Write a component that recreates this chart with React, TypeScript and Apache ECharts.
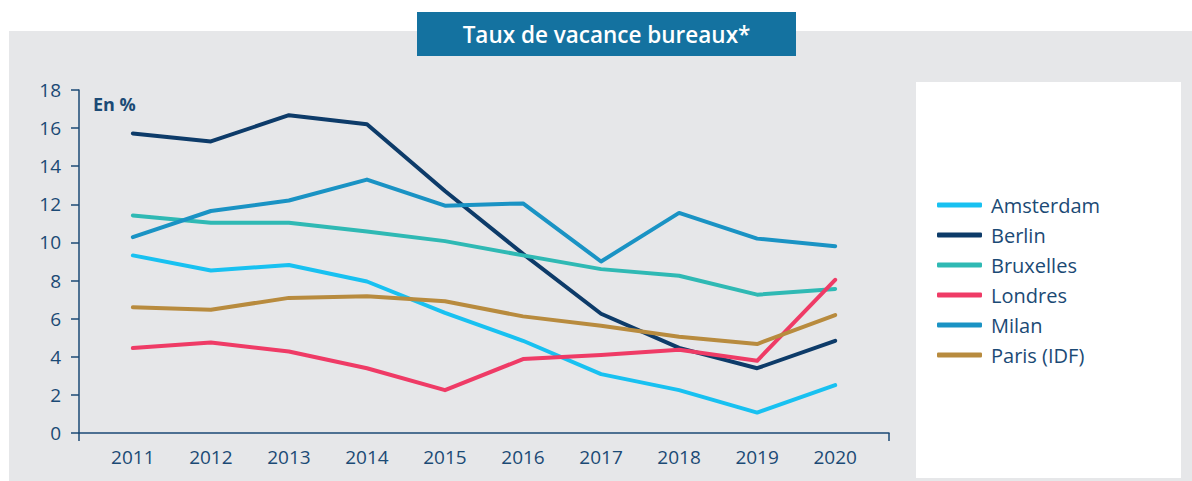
import React, { useEffect, useRef } from "react";
import * as echarts from "echarts";

const years = [2011, 2012, 2013, 2014, 2015, 2016, 2017, 2018, 2019, 2020];
const amsterdam = [9.32, 8.53, 8.82, 7.95, 6.3, 4.84, 3.09, 2.25, 1.07, 2.51];
const berlin = [15.72, 15.3, 16.68, 16.2, 12.7, 9.4, 6.26, 4.47, 3.4, 4.84];
const bruxelles = [11.42, 11.03, 11.03, 10.58, 10.07, 9.32, 8.6, 8.25, 7.26, 7.56];
const londres = [4.46, 4.75, 4.28, 3.4, 2.25, 3.88, 4.09, 4.37, 3.79, 8.04];
const milan = [10.28, 11.65, 12.2, 13.3, 11.93, 12.05, 9.0, 11.55, 10.2, 9.8];
const paris = [6.6, 6.47, 7.09, 7.18, 6.91, 6.12, 5.63, 5.05, 4.67, 6.19];

const seriesNames = ["Amsterdam", "Berlin", "Bruxelles", "Londres", "Milan", "Paris (IDF)"];
const seriesData = [amsterdam, berlin, bruxelles, londres, milan, paris];
const seriesColors = ["#18c1f1", "#0d3b69", "#2fb9b4", "#ef3b66", "#1a93c4", "#b88b3e"];

const title = "Taux de vacance bureaux*";
const unitLabel = "En %";
const xMin = 2010.31;
const xMax = 2020.69;

const TEXT = "#1b4a75";
const FONT = "'Open Sans', sans-serif";

export default function App() {
  const ref = useRef<HTMLDivElement>(null);
  useEffect(() => {
    if (!ref.current) return;
    const chart = echarts.init(ref.current, undefined, { renderer: "svg" });
    chart.setOption({
      animation: false,
      backgroundColor: "#ffffff",
      textStyle: { fontFamily: FONT },
      graphic: [
        { type: "rect", z: -10, shape: { x: 9, y: 31, width: 1183, height: 450 }, style: { fill: "#e6e7e9" }, silent: true },
        { type: "rect", z: -9, shape: { x: 916, y: 82, width: 265, height: 396 }, style: { fill: "#ffffff" }, silent: true },
        { type: "rect", z: 10, shape: { x: 417, y: 12, width: 379, height: 44 }, style: { fill: "#1472a0" } },
        {
          type: "text", z: 11, x: 606.5, y: 34,
          style: { text: title, fill: "#ffffff", font: `600 22.5px ${FONT}`, textAlign: "center", textVerticalAlign: "middle" },
        },
        {
          type: "text", z: 11, x: 93, y: 104,
          style: { text: unitLabel, fill: TEXT, font: `bold 18px ${FONT}`, textAlign: "left", textVerticalAlign: "middle" },
        },
      ],
      grid: { left: 79, right: 303, top: 90, bottom: 48, containLabel: false },
      legend: {
        orient: "vertical",
        left: 932,
        top: 190,
        icon: "roundRect",
        itemWidth: 45,
        itemHeight: 5,
        itemGap: 10,
        data: seriesNames,
        textStyle: { color: TEXT, fontSize: 20, fontFamily: FONT, lineHeight: 20, padding: [0, 0, 0, 4] },
      },
      xAxis: {
        type: "value",
        min: xMin,
        max: xMax,
        axisLine: { show: true, lineStyle: { color: TEXT, width: 1.5 } },
        axisTick: { show: true, customValues: [xMin, xMax], length: 8, lineStyle: { color: TEXT, width: 1.5 } },
        axisLabel: {
          customValues: years,
          formatter: (v: number) => String(Math.round(v)),
          color: TEXT, fontSize: 19, fontFamily: FONT, margin: 14,
        },
        splitLine: { show: false },
      },
      yAxis: {
        type: "value",
        min: 0,
        max: 18,
        interval: 2,
        axisLine: { show: true, lineStyle: { color: TEXT, width: 1.5 } },
        axisTick: { show: true, length: 8, lineStyle: { color: TEXT, width: 1.5 } },
        axisLabel: { color: TEXT, fontSize: 19, fontFamily: FONT, margin: 18 },
        splitLine: { show: false },
      },
      series: seriesNames.map((name, i) => ({
        name,
        type: "line",
        data: years.map((y, j) => [y, seriesData[i][j]]),
        symbol: "none",
        color: seriesColors[i],
        lineStyle: { width: 4, color: seriesColors[i], cap: "round", join: "round" },
      })),
    });
    return () => chart.dispose();
  }, []);
  return <div ref={ref} style={{ position: "fixed", left: 0, top: 0, width: 1192, height: 481 }} />;
}
